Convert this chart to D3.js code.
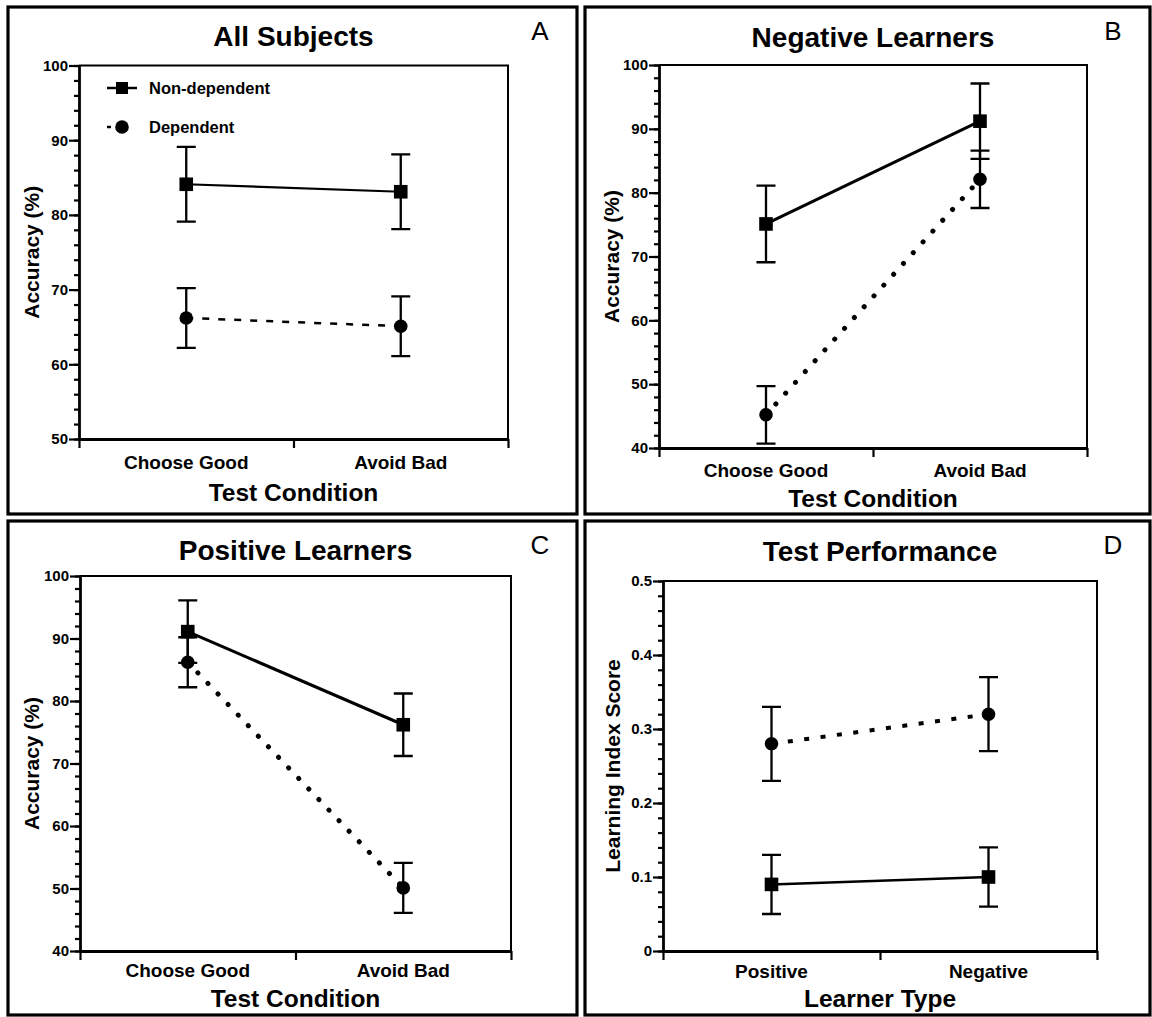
<!DOCTYPE html>
<html>
<head>
<meta charset="utf-8">
<script src="https://cdn.jsdelivr.net/npm/d3@7"></script>
<style>
  html, body { margin: 0; padding: 0; background: #fff; }
  svg { display: block; font-family: "Liberation Sans", Arial, sans-serif; }
</style>
</head>
<body>
<svg id="chart" width="1152" height="1017"></svg>
<script>
// ---------- data ----------
const conditions = ["Choose Good", "Avoid Bad"];
const learnerTypes = ["Positive", "Negative"];
const seriesNames = ["Non-dependent", "Dependent"];

const allNonDepMean = [84.1, 83.1];
const allNonDepErr  = [5.0, 5.0];
const allDepMean    = [66.2, 65.1];
const allDepErr     = [4.0, 4.0];

const negNonDepMean = [75.1, 91.2];
const negNonDepErr  = [6.0, 5.9];
const negDepMean    = [45.2, 82.1];
const negDepErr     = [4.5, 4.5];

const posNonDepMean = [91.1, 76.2];
const posNonDepErr  = [5.0, 5.0];
const posDepMean    = [86.2, 50.1];
const posDepErr     = [4.0, 4.0];

const perfNonDepMean = [0.09, 0.10];
const perfNonDepErr  = [0.04, 0.04];
const perfDepMean    = [0.28, 0.32];
const perfDepErr     = [0.05, 0.05];

const accTicksA  = [50, 60, 70, 80, 90, 100];
const accTicksBC = [40, 50, 60, 70, 80, 90, 100];
const lisTicks   = [0, 0.1, 0.2, 0.3, 0.4, 0.5];

// ---------- layout ----------
const panels = [
  { letter: "A", title: "All Subjects", box: [8, 7, 577, 514],
    plot: [79, 65.5, 508, 439], domain: [50, 100], ticks: accTicksA, minorStep: 2,
    cats: conditions, ylab: "Accuracy (%)", xlab: "Test Condition",
    titleY: 46, catY: 469, xlabY: 501, ylabX: 31,
    nd: [allNonDepMean, allNonDepErr], dep: [allDepMean, allDepErr],
    depStyle: { dash: "7,9", width: 2.5, cap: "butt" }, ndWidth: 2.2, legend: true },
  { letter: "B", title: "Negative Learners", box: [585, 7, 1150, 514],
    plot: [659, 65, 1087, 448], domain: [40, 100], ticks: accTicksBC, minorStep: 2,
    cats: conditions, ylab: "Accuracy (%)", xlab: "Test Condition",
    titleY: 47, catY: 477, xlabY: 507, ylabX: 611,
    nd: [negNonDepMean, negNonDepErr], dep: [negDepMean, negDepErr],
    depStyle: { dash: "0.1,14.5", width: 5, cap: "round" }, ndWidth: 3 },
  { letter: "C", title: "Positive Learners", box: [8, 521, 577, 1015],
    plot: [80, 576, 511, 951], domain: [40, 100], ticks: accTicksBC, minorStep: 2,
    cats: conditions, ylab: "Accuracy (%)", xlab: "Test Condition",
    titleY: 560, catY: 977, xlabY: 1007, ylabX: 31,
    nd: [posNonDepMean, posNonDepErr], dep: [posDepMean, posDepErr],
    depStyle: { dash: "0.1,14.5", width: 5, cap: "round" }, ndWidth: 3 },
  { letter: "D", title: "Test Performance", box: [585, 521, 1150, 1015],
    plot: [663, 581, 1097, 951], domain: [0, 0.5], ticks: lisTicks, minorStep: 0.02,
    cats: learnerTypes, ylab: "Learning Index Score", xlab: "Learner Type",
    titleY: 561, catY: 978, xlabY: 1007, ylabX: 612,
    nd: [perfNonDepMean, perfNonDepErr], dep: [perfDepMean, perfDepErr],
    depStyle: { dash: "5,11.5", width: 4, cap: "butt" }, ndWidth: 2.5 }
];

const svg = d3.select("#chart");

function drawPanel(p) {
  const g = svg.append("g");
  const [bx0, by0, bx1, by1] = p.box;
  g.append("rect").attr("x", bx0).attr("y", by0)
    .attr("width", bx1 - bx0).attr("height", by1 - by0)
    .attr("fill", "none").attr("stroke", "#000").attr("stroke-width", 3.2);

  const [x0, y0, x1, y1] = p.plot;
  const y = d3.scaleLinear().domain(p.domain).range([y1, y0]);
  const xl = d3.scaleLinear().domain([0, 2]).range([x0, x1]);
  const xb = d3.scaleBand().domain(p.cats).range([x0, x1]);
  const cx = c => xb(c) + xb.bandwidth() / 2;

  // frame (top/right)
  g.append("path")
    .attr("d", `M${x0},${y0}H${x1}V${y1}`)
    .attr("fill", "none").attr("stroke", "#000").attr("stroke-width", 2);

  // minor y ticks
  const minor = d3.range(p.domain[0], p.domain[1] + p.minorStep / 2, p.minorStep);
  const yMinor = d3.axisLeft(y).tickValues(minor).tickSize(5).tickFormat("");
  const gm = g.append("g").attr("transform", `translate(${x0},0)`).call(yMinor);
  gm.select(".domain").remove();
  gm.selectAll("line").attr("stroke-width", 2.2);

  // major y axis
  const fmt = p.domain[1] < 1 ? (d => d === 0 ? "0" : d3.format(".1f")(d)) : d3.format("d");
  const yAxis = d3.axisLeft(y).tickValues(p.ticks).tickSize(10).tickPadding(1).tickFormat(fmt).tickSizeOuter(0);
  const gy = g.append("g").attr("transform", `translate(${x0},0)`).call(yAxis);
  gy.select(".domain").attr("stroke-width", 2.8);
  gy.selectAll("line").attr("stroke-width", 2.2);
  gy.selectAll("text").attr("font-size", 15).attr("font-weight", "bold").attr("fill", "#000")
    .attr("font-family", "'Liberation Sans', Arial, sans-serif");

  // x axis
  const xAxis = d3.axisBottom(xl).tickValues([0, 1, 2]).tickSize(9).tickFormat("").tickSizeOuter(0);
  const gx = g.append("g").attr("transform", `translate(0,${y1})`).call(xAxis);
  gx.select(".domain").attr("stroke-width", 2.8);
  gx.selectAll("line").attr("stroke-width", 2.2);

  // category labels
  g.selectAll(".cat").data(p.cats).enter().append("text")
    .attr("x", d => cx(d)).attr("y", p.catY)
    .attr("text-anchor", "middle").attr("font-size", 19).attr("font-weight", "bold")
    .text(d => d);

  // axis titles
  const midX = (x0 + x1) / 2, midY = (y0 + y1) / 2;
  g.append("text").attr("x", midX).attr("y", p.xlabY).attr("text-anchor", "middle")
    .attr("font-size", 24.5).attr("font-weight", "bold").text(p.xlab);
  g.append("text").attr("transform", `translate(${p.ylabX},${midY}) rotate(-90)`)
    .attr("text-anchor", "middle").attr("dominant-baseline", "central")
    .attr("font-size", 21).attr("font-weight", "bold").text(p.ylab);

  // title and letter
  g.append("text").attr("x", midX).attr("y", p.titleY).attr("text-anchor", "middle")
    .attr("font-size", 28).attr("font-weight", "bold").text(p.title);
  g.append("text").attr("x", bx1 - 37).attr("y", by0 + 33).attr("text-anchor", "middle")
    .attr("font-size", 26).attr("font-weight", "normal").text(p.letter);

  // series
  const line = d3.line().x(d => cx(d.c)).y(d => y(d.m));
  const mk = (arr) => p.cats.map((c, i) => ({ c, m: arr[0][i], e: arr[1][i] }));
  const nd = mk(p.nd), dep = mk(p.dep);

  g.append("path").datum(dep).attr("d", line).attr("fill", "none").attr("stroke", "#000")
    .attr("stroke-width", p.depStyle.width).attr("stroke-dasharray", p.depStyle.dash)
    .attr("stroke-linecap", p.depStyle.cap);
  g.append("path").datum(nd).attr("d", line).attr("fill", "none").attr("stroke", "#000")
    .attr("stroke-width", p.ndWidth);

  const capW = 9.5;
  [nd, dep].forEach(s => {
    s.forEach(d => {
      const xx = cx(d.c);
      g.append("path")
        .attr("d", `M${xx},${y(d.m + d.e)}V${y(d.m - d.e)}M${xx - capW},${y(d.m + d.e)}H${xx + capW}M${xx - capW},${y(d.m - d.e)}H${xx + capW}`)
        .attr("fill", "none").attr("stroke", "#000").attr("stroke-width", 2.3);
    });
  });
  g.selectAll(".sq").data(nd).enter().append("rect")
    .attr("x", d => cx(d.c) - 6.8).attr("y", d => y(d.m) - 6.8)
    .attr("width", 13.6).attr("height", 13.6).attr("fill", "#000");
  g.selectAll(".ci").data(dep).enter().append("circle")
    .attr("cx", d => cx(d.c)).attr("cy", d => y(d.m)).attr("r", 6.8).attr("fill", "#000");

  if (p.legend) {
    const lx0 = 107, lx1 = 137, lc = 122;
    const ly1 = 88, ly2 = 127;
    g.append("line").attr("x1", lx0).attr("x2", lx1).attr("y1", ly1).attr("y2", ly1)
      .attr("stroke", "#000").attr("stroke-width", 2.5);
    g.append("rect").attr("x", lc - 6).attr("y", ly1 - 6).attr("width", 12).attr("height", 12).attr("fill", "#000");
    g.append("line").attr("x1", lx0).attr("x2", lx1).attr("y1", ly2).attr("y2", ly2)
      .attr("stroke", "#000").attr("stroke-width", 2.5).attr("stroke-dasharray", "4,26");
    g.append("circle").attr("cx", lc).attr("cy", ly2).attr("r", 6.8).attr("fill", "#000");
    g.append("text").attr("x", 149).attr("y", ly1 + 6).attr("font-size", 16.5).attr("font-weight", "bold").text(seriesNames[0]);
    g.append("text").attr("x", 149).attr("y", ly2 + 6).attr("font-size", 16.5).attr("font-weight", "bold").text(seriesNames[1]);
  }
}

panels.forEach(drawPanel);
</script>
</body>
</html>
